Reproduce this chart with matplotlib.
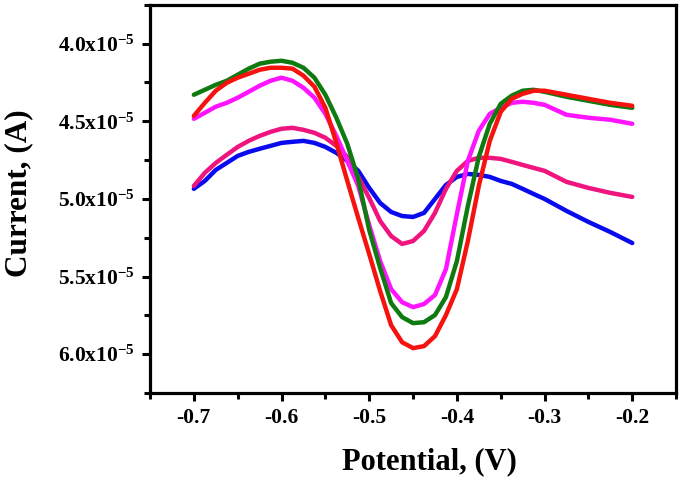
import matplotlib
matplotlib.use("Agg")
import matplotlib.pyplot as plt
from matplotlib.ticker import MultipleLocator

plt.rcParams["font.family"] = ["Liberation Serif", "DejaVu Serif"]
plt.rcParams["font.weight"] = "bold"
plt.rcParams["mathtext.fontset"] = "custom"
plt.rcParams["mathtext.rm"] = "Liberation Serif:bold"
plt.rcParams["mathtext.bf"] = "Liberation Serif:bold"
plt.rcParams["mathtext.default"] = "rm"
plt.rcParams["axes.unicode_minus"] = False

# ---- data (current in units of 1e-5 A) ------------------------------------
blue_x = [-0.70, -0.6875, -0.675, -0.6625, -0.65, -0.6375, -0.625, -0.6125, -0.60, -0.5875,
          -0.575, -0.5625, -0.55, -0.5375, -0.525, -0.5125, -0.50, -0.4875, -0.475, -0.4625,
          -0.45, -0.4375, -0.425, -0.4125, -0.40, -0.3875, -0.375, -0.3625, -0.35, -0.3375,
          -0.325, -0.3125, -0.30, -0.275, -0.25, -0.225, -0.20]
blue_y = [4.935, 4.884, 4.813, 4.768, 4.723, 4.697, 4.677, 4.658, 4.639, 4.632,
          4.626, 4.639, 4.665, 4.703, 4.755, 4.819, 4.929, 5.026, 5.084, 5.110,
          5.116, 5.090, 5.000, 4.910, 4.858, 4.839, 4.845, 4.858, 4.884, 4.903,
          4.935, 4.968, 5.000, 5.077, 5.148, 5.213, 5.284]

pink_x = [-0.70, -0.6875, -0.675, -0.6625, -0.65, -0.6375, -0.625, -0.6125, -0.60, -0.5875,
          -0.575, -0.5625, -0.55, -0.5375, -0.525, -0.5125, -0.50, -0.4875, -0.475, -0.4625,
          -0.45, -0.4375, -0.425, -0.4125, -0.40, -0.3875, -0.375, -0.3625, -0.35, -0.3375,
          -0.325, -0.30, -0.275, -0.25, -0.225, -0.20]
pink_y = [4.916, 4.832, 4.768, 4.716, 4.665, 4.626, 4.594, 4.568, 4.548, 4.542,
          4.555, 4.574, 4.606, 4.658, 4.729, 4.858, 4.994, 5.142, 5.239, 5.290,
          5.271, 5.206, 5.090, 4.935, 4.819, 4.755, 4.735, 4.735, 4.742, 4.761,
          4.781, 4.819, 4.890, 4.929, 4.961, 4.987]

magenta_x = [-0.70, -0.6875, -0.675, -0.6625, -0.65, -0.6375, -0.625, -0.6125, -0.60, -0.5875,
             -0.575, -0.5625, -0.55, -0.5375, -0.525, -0.5125, -0.50, -0.4875, -0.475, -0.4625,
             -0.45, -0.4375, -0.425, -0.4125, -0.40, -0.3875, -0.375, -0.3625, -0.35, -0.3375,
             -0.325, -0.3125, -0.30, -0.275, -0.25, -0.225, -0.20]
magenta_y = [4.484, 4.445, 4.406, 4.381, 4.348, 4.310, 4.271, 4.239, 4.219, 4.239,
             4.284, 4.348, 4.452, 4.594, 4.755, 4.916, 5.168, 5.400, 5.581, 5.665,
             5.697, 5.677, 5.619, 5.452, 5.097, 4.755, 4.561, 4.452, 4.413, 4.381,
             4.374, 4.381, 4.394, 4.458, 4.477, 4.490, 4.516]

green_x = [-0.70, -0.6875, -0.675, -0.6625, -0.65, -0.6375, -0.625, -0.6125, -0.60, -0.5875,
           -0.575, -0.5625, -0.55, -0.5375, -0.525, -0.5125, -0.50, -0.4875, -0.475, -0.4625,
           -0.45, -0.4375, -0.425, -0.4125, -0.40, -0.3875, -0.375, -0.3625, -0.35, -0.3375,
           -0.325, -0.3125, -0.30, -0.275, -0.25, -0.225, -0.20]
green_y = [4.329, 4.297, 4.265, 4.239, 4.200, 4.161, 4.129, 4.116, 4.110, 4.123,
           4.155, 4.219, 4.329, 4.477, 4.645, 4.871, 5.200, 5.445, 5.671, 5.761,
           5.800, 5.794, 5.748, 5.632, 5.400, 5.045, 4.729, 4.516, 4.387, 4.335,
           4.303, 4.297, 4.310, 4.342, 4.368, 4.394, 4.413]

red_x = [-0.70, -0.6875, -0.675, -0.6625, -0.65, -0.6375, -0.625, -0.6125, -0.60, -0.5875,
         -0.575, -0.5625, -0.55, -0.5375, -0.525, -0.5125, -0.50, -0.4875, -0.475, -0.4625,
         -0.45, -0.4375, -0.425, -0.4125, -0.40, -0.3875, -0.375, -0.3625, -0.35, -0.3375,
         -0.325, -0.3125, -0.30, -0.275, -0.25, -0.225, -0.20]
red_y = [4.465, 4.381, 4.303, 4.252, 4.219, 4.194, 4.168, 4.155, 4.155, 4.161,
         4.206, 4.277, 4.413, 4.639, 4.884, 5.123, 5.355, 5.594, 5.813, 5.923,
         5.961, 5.948, 5.884, 5.748, 5.581, 5.271, 4.916, 4.626, 4.439, 4.355,
         4.323, 4.303, 4.303, 4.329, 4.355, 4.381, 4.400]

x_ticks = [-0.7, -0.6, -0.5, -0.4, -0.3, -0.2]
x_labels = ["-0.7", "-0.6", "-0.5", "-0.4", "-0.3", "-0.2"]
y_ticks = [4.0, 4.5, 5.0, 5.5, 6.0]
y_labels = ["4.0x10$^{-5}$", "4.5x10$^{-5}$", "5.0x10$^{-5}$", "5.5x10$^{-5}$", "6.0x10$^{-5}$"]

SCALE = 1e-5

fig = plt.figure(figsize=(6.85, 4.87), dpi=100)
ax = fig.add_axes([0.219, 0.193, 0.768, 0.797])

series = [
    (blue_x, blue_y, "#0a0aef"),
    (pink_x, pink_y, "#f0147e"),
    (magenta_x, magenta_y, "#ff14ff"),
    (green_x, green_y, "#0f7a0f"),
    (red_x, red_y, "#f5120f"),
]
for xs, ys, col in series:
    ax.plot(xs, [v * SCALE for v in ys], color=col, lw=3.2,
            solid_capstyle="round", solid_joinstyle="round")

ax.set_xlim(-0.75, -0.15)
ax.set_ylim(6.25 * SCALE, 3.75 * SCALE)

ax.set_xticks(x_ticks, x_labels)
ax.set_yticks([v * SCALE for v in y_ticks], y_labels)
ax.xaxis.set_minor_locator(MultipleLocator(0.05))
ax.yaxis.set_minor_locator(MultipleLocator(0.25 * SCALE))

for s in ax.spines.values():
    s.set_linewidth(2.3)
ax.tick_params(which="major", direction="out", length=6, width=2.2, labelsize=15.5, pad=5)
ax.tick_params(which="minor", direction="out", length=4, width=2.2)
for lab in ax.get_xticklabels() + ax.get_yticklabels():
    lab.set_fontweight("bold")

ax.set_xlabel("Potential, (V)", fontsize=22, fontweight="bold")
ax.set_ylabel("Current, (A)", fontsize=22.5, fontweight="bold")
ax.xaxis.set_label_coords(0.532, -0.14)
ax.yaxis.set_label_coords(-0.222, 0.515)

fig.savefig("out.png", dpi=100, facecolor="white")
